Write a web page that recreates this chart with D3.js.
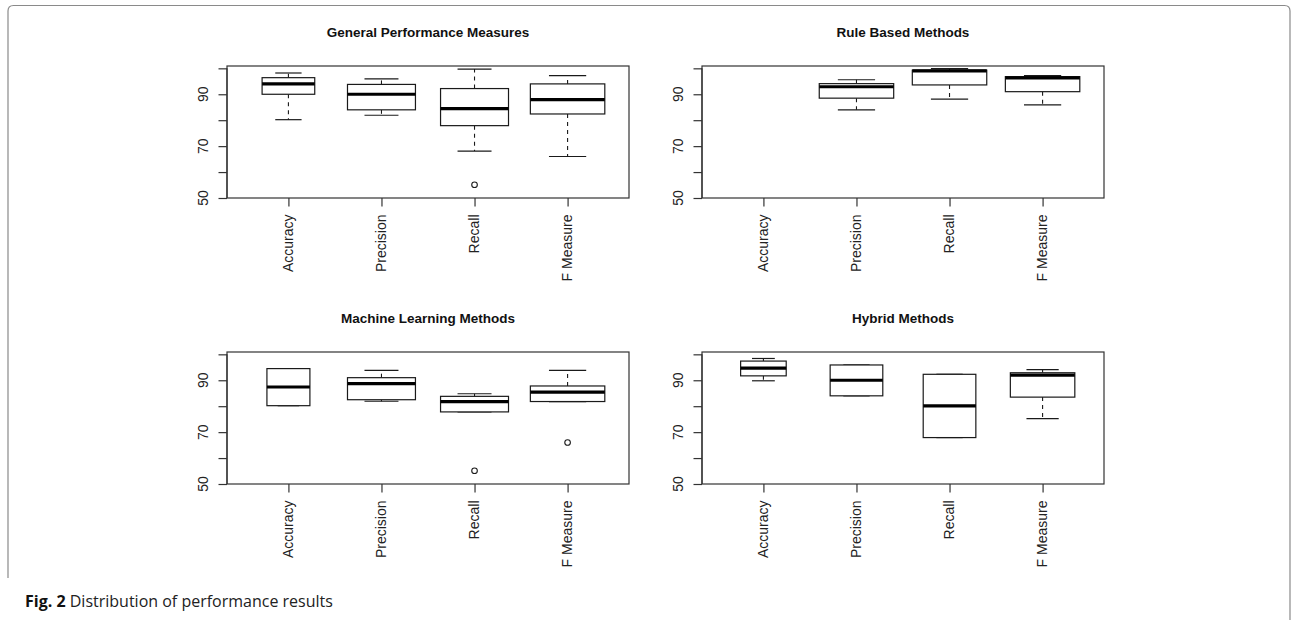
<!DOCTYPE html>
<html><head><meta charset="utf-8">
<script src="https://cdn.jsdelivr.net/npm/d3@7"></script>
<style>
html,body{margin:0;padding:0;background:#fff;}
svg{display:block;}
</style>
</head><body>
<script>
// ---------- DATA ----------
const categories = ["Accuracy", "Precision", "Recall", "F Measure"];
const panelTitles = ["General Performance Measures", "Rule Based Methods", "Machine Learning Methods", "Hybrid Methods"];
const yTicks = [50, 60, 70, 80, 90, 100];
const yTickLabels = ["50", "", "70", "", "90", ""];

// five-number summaries per category: [lower whisker, Q1, median, Q3, upper whisker]
const generalBoxes = [[80.2, 90.0, 94.0, 96.4, 98.2], [81.9, 84.0, 90.0, 93.8, 95.9], [68.1, 77.9, 84.5, 92.2, 99.7], [66.0, 82.4, 87.9, 94.0, 97.2]];
const generalOutliers = [[], [], [55.1], []];
const generalN = [6, 10, 10, 12];

const ruleBoxes = [null, [84.0, 88.5, 92.9, 94.1, 95.6], [88.1, 93.6, 99.0, 99.3, 99.9], [85.9, 91.0, 96.3, 96.8, 97.2]];
const ruleOutliers = [[], [], [], []];
const ruleN = [0, 12, 12, 12];

const mlBoxes = [[80.2, 80.2, 87.4, 94.5, 94.5], [81.9, 82.5, 88.7, 91.0, 93.8], [77.8, 77.8, 81.8, 83.8, 84.8], [81.8, 81.8, 85.4, 87.8, 93.8]];
const mlOutliers = [[], [], [55.1], [66.0]];
const mlN = [4, 10, 10, 12];

const hybridBoxes = [[89.8, 91.7, 94.7, 97.4, 98.4], [84.0, 84.0, 90.0, 95.9, 95.9], [67.9, 67.9, 80.1, 92.3, 92.3], [75.2, 83.5, 92.0, 92.9, 94.1]];
const hybridOutliers = [[], [], [], []];
const hybridN = [4.5, 6, 6, 9];
const referenceN = 12;

const captionBold = "Fig. 2";
const captionText = " Distribution of performance results";

// ---------- LAYOUT ----------
const W = 1294, H = 620;
const svg = d3.select("body").append("svg").attr("width", W).attr("height", H);

// frame
svg.append("path")
  .attr("d", "M8,578 L8,11 Q8,5.5 13.5,5.5 L1284.5,5.5 Q1290,5.5 1290,11 L1290,620")
  .attr("fill", "none").attr("stroke", "#8a8a8a").attr("stroke-width", 1.2);

const panels = [
  {title: panelTitles[0], boxes: generalBoxes, out: generalOutliers, n: generalN, x0: 227, x1: 629, y0: 66, y1: 198},
  {title: panelTitles[1], boxes: ruleBoxes, out: ruleOutliers, n: ruleN, x0: 702, x1: 1104, y0: 66, y1: 198},
  {title: panelTitles[2], boxes: mlBoxes, out: mlOutliers, n: mlN, x0: 227, x1: 629, y0: 352, y1: 484},
  {title: panelTitles[3], boxes: hybridBoxes, out: hybridOutliers, n: hybridN, x0: 702, x1: 1104, y0: 352, y1: 484}
];

const ink = "#1a1a1a";
const fontR = "'Liberation Sans', Arial, Helvetica, sans-serif";

panels.forEach(p => {
  const g = svg.append("g");
  const x = d3.scaleLinear().domain([0.34, 4.66]).range([p.x0, p.x1]);
  const y = d3.scaleLinear().domain([50, 100.9]).range([p.y1, p.y0]);
  const unit = x(1) - x(0);

  // title
  g.append("text").attr("x", (p.x0 + p.x1) / 2).attr("y", p.y0 - 29)
    .attr("text-anchor", "middle").attr("font-family", fontR)
    .attr("font-weight", "bold").attr("font-size", 13.5).attr("fill", "#111")
    .text(p.title);

  // plot border
  g.append("rect").attr("x", p.x0).attr("y", p.y0).attr("width", p.x1 - p.x0).attr("height", p.y1 - p.y0)
    .attr("fill", "none").attr("stroke", "#333").attr("stroke-width", 1.2);

  // y axis
  const ya = d3.axisLeft(y).tickValues(yTicks).tickSize(8.5).tickFormat("");
  const yg = g.append("g").attr("transform", `translate(${p.x0},0)`).call(ya);
  yg.select(".domain").attr("stroke", "#333").attr("stroke-width", 1.2).attr("d", `M0,${y(50)}V${y(100)}`);
  yg.selectAll(".tick line").attr("stroke", "#333").attr("stroke-width", 1.2);
  yTicks.forEach((v, i) => {
    if (!yTickLabels[i]) return;
    g.append("text").attr("transform", `translate(${p.x0 - 24},${y(v)}) rotate(-90)`)
      .attr("text-anchor", "middle").attr("dy", "0.35em")
      .attr("font-family", fontR).attr("font-size", 14).attr("fill", "#222")
      .text(yTickLabels[i]);
  });

  // x axis
  const xa = d3.axisBottom(x).tickValues([1, 2, 3, 4]).tickSize(8.5).tickFormat("");
  const xg = g.append("g").attr("transform", `translate(0,${p.y1})`).call(xa);
  xg.select(".domain").remove();
  xg.selectAll(".tick line").attr("stroke", "#333").attr("stroke-width", 1.2);
  categories.forEach((c, i) => {
    g.append("text").attr("transform", `translate(${x(i + 1)},${p.y1 + 16.5}) rotate(-90)`)
      .attr("text-anchor", "end").attr("dy", "0.35em")
      .attr("font-family", fontR).attr("font-size", 14).attr("fill", "#222")
      .text(c);
  });

  // boxes
  p.boxes.forEach((b, i) => {
    if (!b) return;
    const cx = x(i + 1);
    const hw = 0.8 * Math.sqrt(p.n[i] / referenceN) * unit / 2;
    const [lo, q1, med, q3, hi] = b;
    // whiskers (dashed)
    [[q1, lo], [q3, hi]].forEach(([a, e]) => {
      if (a !== e) {
        g.append("line").attr("x1", cx).attr("x2", cx).attr("y1", y(a)).attr("y2", y(e))
          .attr("stroke", ink).attr("stroke-width", 1.1).attr("stroke-dasharray", "4,4");
      }
      g.append("line").attr("x1", cx - hw / 2).attr("x2", cx + hw / 2).attr("y1", y(e)).attr("y2", y(e))
        .attr("stroke", ink).attr("stroke-width", 1.2);
    });
    // box
    g.append("rect").attr("x", cx - hw).attr("y", y(q3)).attr("width", 2 * hw).attr("height", y(q1) - y(q3))
      .attr("fill", "#fff").attr("stroke", ink).attr("stroke-width", 1.2);
    // median
    g.append("line").attr("x1", cx - hw).attr("x2", cx + hw).attr("y1", y(med)).attr("y2", y(med))
      .attr("stroke", "#000").attr("stroke-width", 3.2);
    // outliers
    p.out[i].forEach(v => {
      g.append("circle").attr("cx", cx).attr("cy", y(v)).attr("r", 2.8)
        .attr("fill", "none").attr("stroke", ink).attr("stroke-width", 1.1);
    });
  });
});

// caption
const cap = svg.append("text").attr("x", 25).attr("y", 606.5)
  .attr("font-family", "'Open Sans', Lato, sans-serif").attr("font-size", 16).attr("fill", "#111");
cap.append("tspan").attr("font-weight", "bold").text(captionBold);
cap.append("tspan").attr("fill", "#222").text(captionText);
</script>
</body></html>
